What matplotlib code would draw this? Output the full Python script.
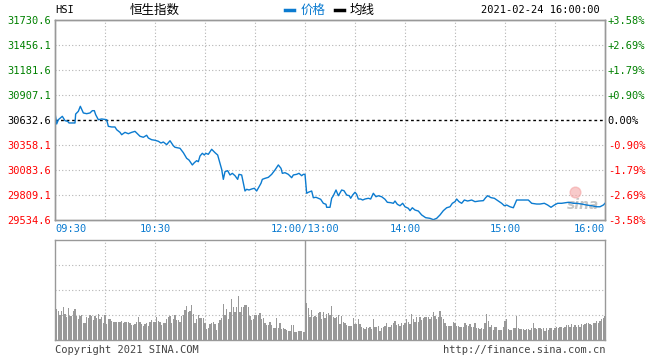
import numpy as np
import matplotlib
matplotlib.use('Agg')
import matplotlib.pyplot as plt
from matplotlib.lines import Line2D

plt.rcParams['font.family'] = ['DejaVu Sans Mono', 'Noto Sans CJK SC']

# previous close and axis levels
prev_close = 30632.6
price_levels = [29534.6, 29809.1, 30083.6, 30358.1, 30632.6, 30907.1, 31181.6, 31456.1, 31730.6]
pct_labels = ['-3.58%', '-2.69%', '-1.79%', '-0.90%', '0.00%', '+0.90%', '+1.79%', '+2.69%', '+3.58%']
time_ticks = [0, 60, 150, 210, 270, 330]
time_labels = ['09:30', '10:30', '12:00/13:00', '14:00', '15:00', '16:00']

# price line, minutes since 09:30 (trading minutes, lunch removed)
price_min = [0, 1, 2, 4.4, 6, 7.6, 8.4, 12, 12.4, 14, 15.2, 17, 19, 21, 22.4, 23.6, 24.4, 26, 28, 31,
             32, 34, 36, 37, 39, 40, 42, 44, 46, 48, 49, 51, 53, 55, 56, 58, 60, 62, 63.6, 65,
             67, 69, 71, 72, 75, 77, 79, 80.4, 82.4, 83.6, 85, 86, 87, 88.4, 89.6, 90.4, 92, 94, 96, 97.6,
             99, 100, 101, 102, 103.6, 105, 106.4, 108, 109.6, 110.4, 112, 113, 114, 115, 116.4, 118, 119.6, 121, 122.4, 123.6,
             124.4, 126, 128, 130, 132, 134, 135.6, 136.4, 138, 140, 142, 143, 145, 146.4, 148, 149, 150,
             151, 152, 154, 155, 156.6, 158, 159.4, 161, 162.6, 163, 165, 166, 167, 168.6, 170, 172, 173.4, 175, 176.6, 177.4,
             178.6, 180, 181, 182, 183.4, 184.6, 186, 188, 189.4, 191, 192.6, 194, 196, 198, 199.4, 201.4, 203, 204, 205.4, 207,
             208.6, 210, 212, 213, 214.4, 216, 218, 220, 222.4, 225, 227, 229, 231, 233, 235, 237, 238.4, 240, 241, 242.4,
             244, 245.6, 247.6, 250, 252, 254.4, 257, 258.4, 259.6, 261.6, 263.6, 266, 268, 269.6, 271, 273, 275, 277, 279, 284,
             286, 289, 291, 293.6, 295.6, 297.6, 299.6, 301.6, 304, 308, 311, 313, 316, 319, 322, 325, 327, 329, 330]
price_val = [30710, 30589, 30636, 30673, 30625, 30618, 30600, 30600, 30698, 30728, 30783, 30710, 30702, 30710, 30735, 30735, 30691, 30636, 30644, 30636,
             30563, 30556, 30556, 30526, 30497, 30471, 30497, 30482, 30497, 30508, 30490, 30454, 30443, 30465, 30435, 30416, 30410, 30399, 30380, 30391,
             30362, 30405, 30350, 30333, 30322, 30274, 30212, 30193, 30139, 30164, 30186, 30175, 30237, 30267, 30248, 30267, 30256, 30311, 30274, 30248,
             30157, 30091, 29981, 30065, 30076, 30029, 30047, 30021, 29981, 30036, 30029, 29938, 29853, 29872, 29864, 29875, 29883, 29853, 29900, 29938,
             29981, 29992, 30003, 30036, 30084, 30139, 30102, 30047, 30054, 30036, 29999, 30029, 30036, 30047, 30021, 30036, 30036,
             29828, 29839, 29853, 29779, 29784, 29773, 29762, 29718, 29707, 29674, 29674, 29773, 29801, 29864, 29801, 29864, 29856, 29809, 29801, 29773,
             29809, 29839, 29817, 29765, 29765, 29754, 29765, 29773, 29765, 29828, 29790, 29801, 29790, 29762, 29729, 29725, 29718, 29743, 29707, 29691,
             29718, 29680, 29663, 29637, 29669, 29644, 29633, 29590, 29560, 29553, 29538, 29553, 29590, 29637, 29669, 29680, 29718, 29736, 29765, 29736,
             29718, 29754, 29743, 29754, 29736, 29743, 29747, 29780, 29801, 29780, 29773, 29743, 29718, 29691, 29699, 29680, 29669, 29754, 29754, 29754,
             29718, 29710, 29710, 29718, 29699, 29674, 29699, 29718, 29718, 29729, 29718, 29718, 29710, 29699, 29691, 29680, 29680, 29699, 29718]

# volume per minute (relative units, panel top = 100)
vol_am = [31, 29, 25, 29, 33, 26, 23, 32, 24, 24, 29, 31, 24, 21, 24, 25, 17, 17, 23, 22,
          25, 24, 20, 24, 22, 26, 21, 23, 17, 25, 16, 21, 21, 19, 18, 18, 18, 18, 18, 19,
          17, 18, 18, 18, 17, 15, 15, 16, 18, 23,
          18, 16, 14, 16, 17, 14, 18, 20, 18, 18, 23, 19, 18, 15, 17, 17, 21, 23, 24, 17,
          21, 25, 20, 20, 18, 24, 25, 30, 34, 28, 29, 35, 26, 17, 21, 25, 22, 22, 22, 17,
          11, 12, 16, 17, 18, 16, 10, 17, 20, 22, 36,
          25, 31, 21, 28, 41, 33, 28, 33, 44, 28, 33, 33, 35, 35, 33, 24, 20, 21, 25, 25,
          25, 27, 21, 22, 17, 15, 15, 18, 15, 12, 12, 22, 12, 17, 11, 12, 11, 10, 9, 9,
          15, 15, 8, 8, 9, 9, 9, 8, 8]
vol_pm = [37, 32, 23, 30, 23, 24, 23, 27, 28, 21, 28, 22, 26, 27,
          25, 34, 23, 22, 23, 25, 16, 24, 18, 17, 15, 14, 14, 14, 22, 16, 16, 21, 16, 13,
          12, 11, 13, 12, 13, 11, 21, 13, 13, 14, 9, 12, 13, 14, 17, 13, 13, 15, 17, 19,
          15, 16, 14, 17, 15, 17, 21, 18, 16, 26, 21, 18, 23, 18, 23, 20, 22, 23, 23, 23,
          21, 23, 28, 24, 21, 23, 29, 23, 21, 17, 14, 14, 14, 14, 18, 17, 14, 14, 13, 13,
          13, 17, 15, 14, 16, 13, 13, 17, 12, 12, 11, 12, 11, 17, 26, 19, 13, 15, 10, 13,
          13, 10, 10, 10, 13, 19, 21, 11, 10, 10, 12, 12, 24, 12, 11, 11, 11, 10, 11, 11,
          10, 12, 17, 12, 11, 12, 12, 11, 12, 9, 12, 10, 12, 12, 10, 12, 13, 12, 13, 13,
          12, 13, 15, 15, 13, 16, 13, 15, 13, 15, 13, 16, 15, 16, 17, 17, 16, 15, 17, 17,
          19, 17, 19, 21, 22, 24]

line_blue = '#0b7bd0'
grey = '#999999'
grid_c = '#b4b4b4'

fig = plt.figure(figsize=(6.6, 3.6), dpi=100)
ax = fig.add_axes([55 / 660, 1 - 220 / 360, 550 / 660, 200 / 360])
axv = fig.add_axes([55 / 660, 1 - 340 / 360, 550 / 660, 100 / 360])

# ---- price panel
ax.set_xlim(0, 330)
ax.set_ylim(price_levels[0], price_levels[-1])
for lv in price_levels[1:-1]:
    if lv == prev_close:
        ax.axhline(lv, color='black', lw=1, ls=(0, (2, 2)), zorder=2)
    else:
        ax.axhline(lv, color=grid_c, lw=0.8, ls=(0, (1, 2)), zorder=1)
for m in range(30, 330, 30):
    ax.axvline(m, color=grid_c, lw=0.8, ls=(0, (1, 2)), zorder=1)

ax.plot(price_min, price_val, color=line_blue, lw=1.0, zorder=3)

ax.set_yticks(price_levels)
ax.set_yticklabels(['%.1f' % v for v in price_levels])
for lbl, v in zip(ax.get_yticklabels(), price_levels):
    lbl.set_color('#008000' if v > prev_close else ('#ff0000' if v < prev_close else 'black'))
ax.tick_params(axis='y', length=0, pad=3, labelsize=7.5)

ax.set_xticks(time_ticks)
ax.set_xticklabels(time_labels)
ax.tick_params(axis='x', length=0, pad=3, labelsize=7.5, colors=line_blue)
xl = ax.get_xticklabels()
xl[0].set_ha('left')
xl[-1].set_ha('right')

ax2 = ax.twinx()
ax2.set_ylim(ax.get_ylim())
ax2.set_yticks(price_levels)
ax2.set_yticklabels(pct_labels)
for lbl, v in zip(ax2.get_yticklabels(), price_levels):
    lbl.set_color('#008000' if v > prev_close else ('#ff0000' if v < prev_close else 'black'))
ax2.tick_params(axis='y', length=0, pad=2, labelsize=7.5)

for a in (ax, ax2):
    for s in a.spines.values():
        s.set_color(grey)
        s.set_linewidth(1)

# sina watermark
ax.scatter([312], [29840], s=60, color='#f4a0a0', alpha=0.55, zorder=2)
ax.text(307, 29650, 'sina', fontsize=10, style='italic', weight='bold',
        color='#b8b8b8', alpha=0.8, zorder=2, family='DejaVu Sans')

# ---- volume panel
am_x = np.arange(1, len(vol_am) + 1)
pm_x = np.arange(151, 151 + len(vol_pm))
axv.bar(am_x, vol_am, width=0.65, color=grey, zorder=2)
axv.bar(pm_x, vol_pm, width=0.65, color=grey, zorder=2)
axv.set_xlim(0, 330)
axv.set_ylim(0, 100)
for lv in (25, 50, 75):
    axv.axhline(lv, color=grid_c, lw=0.8, ls=(0, (1, 2)), zorder=1)
for m in range(30, 330, 30):
    if m == 150:
        axv.axvline(m, color=grey, lw=1, zorder=3)
    else:
        axv.axvline(m, color=grid_c, lw=0.8, ls=(0, (1, 2)), zorder=1)
axv.set_xticks([])
axv.set_yticks([])
for s in axv.spines.values():
    s.set_color(grey)
    s.set_linewidth(1)

# ---- header and footer
fy = 1 - 10 / 360
fig.text(55 / 660, fy, 'HSI', fontsize=7.5, va='center', ha='left')
fig.text(130 / 660, fy, '恒生指数', fontsize=9, va='center', ha='left', family=['Noto Sans CJK SC'])
fig.add_artist(Line2D([285 / 660, 294 / 660], [fy, fy], color=line_blue, lw=2.5, transform=fig.transFigure))
fig.text(301 / 660, fy, '价格', fontsize=9, va='center', ha='left', color=line_blue, family=['Noto Sans CJK SC'])
fig.add_artist(Line2D([335 / 660, 344 / 660], [fy, fy], color='black', lw=2.5, transform=fig.transFigure))
fig.text(350 / 660, fy, '均线', fontsize=9, va='center', ha='left', family=['Noto Sans CJK SC'])
fig.text(600 / 660, fy, '2021-02-24 16:00:00', fontsize=7.5, va='center', ha='right')

by = 1 - 350 / 360
fig.text(55 / 660, by, 'Copyright 2021 SINA.COM', fontsize=7.5, va='center', ha='left', color='#444444')
fig.text(605 / 660, by, 'http://finance.sina.com.cn', fontsize=7.5, va='center', ha='right', color='#444444')

fig.savefig('out.png', dpi=100)
